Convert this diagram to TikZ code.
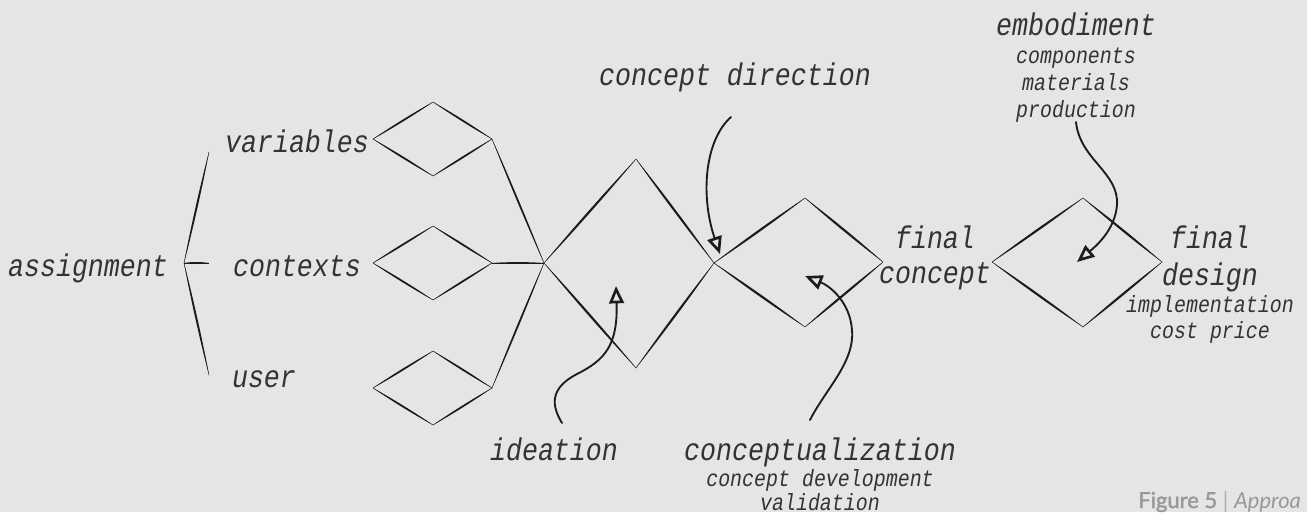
\documentclass[tikz,border=0pt]{standalone}
\usepackage{fontspec}
\usetikzlibrary{calc,arrows.meta}
\newfontfamily\handfont[FakeStretch=0.85]{Liberation Mono}
\newfontfamily\capfont{Lato}
\newfontfamily\capboldfont[FakeBold=2]{Lato}
\definecolor{paper}{HTML}{E5E5E5}
\definecolor{ink}{HTML}{1C1C1C}
\definecolor{txt}{HTML}{333333}
\definecolor{capgray}{HTML}{999999}

% a brush stroke: thin at both ends, swelling in the middle
\newcommand\brushline[3][0.9pt]{%
  \fill[ink] (#2) .. controls ($(#2)!0.3!(#3)!#1!90:(#3)$) and ($(#2)!0.7!(#3)!#1!90:(#3)$) .. (#3)
     .. controls ($(#2)!0.7!(#3)!#1!-90:(#3)$) and ($(#2)!0.3!(#3)!#1!-90:(#3)$) .. cycle;
  \draw[ink, line width=0.3pt] (#2) -- (#3);}

\tikzset{
  lbl/.style={font=\handfont\itshape\fontsize{23.5}{26}\selectfont, text=txt, inner sep=0pt, anchor=base},
  sublbl/.style={lbl, font=\handfont\itshape\fontsize{17.6}{20}\selectfont},
  curl/.style={draw=ink, line width=1.4pt, line cap=round,
    -{Triangle[open, length=13pt, width=11pt, line width=2pt]}},
}

\begin{document}
\begin{tikzpicture}[x=0.75pt, y=-0.75pt]
\fill[paper] (0,0) rectangle (1307,512);
\useasboundingbox (0,0) rectangle (1307,512);
\clip (0,0) rectangle (1307,512);

% ---- brace of the assignment ----
\coordinate (brTop) at (209,152);
\coordinate (brTip) at (184,263);
\coordinate (brBot) at (209,375);
\coordinate (brMid) at (209,263);
\brushline[1.0pt]{brTop}{brTip}
\brushline[1.0pt]{brTip}{brBot}
\brushline[1.0pt]{brTip}{brMid}

% ---- three small diamonds ----
\foreach \n/\y in {a/139, b/263, c/388} {
  \coordinate (s\n L) at (373,\y);
  \coordinate (s\n T) at (433,\y-37);
  \coordinate (s\n R) at (492,\y);
  \coordinate (s\n B) at (433,\y+37);
}
\foreach \n in {a,b,c} {
  \brushline{s\n L}{s\n T}
  \brushline{s\n T}{s\n R}
  \brushline{s\n R}{s\n B}
  \brushline{s\n B}{s\n L}
}

% ---- ideation diamond ----
\coordinate (iL) at (544,263);
\coordinate (iT) at (636,159);
\coordinate (iR) at (714,263);
\coordinate (iB) at (636,368);
\brushline[1.1pt]{iL}{iT}
\brushline[1.1pt]{iT}{iR}
\brushline[1.1pt]{iR}{iB}
\brushline[1.1pt]{iB}{iL}

% converging lines
\brushline{saR}{iL}
\brushline{sbR}{iL}
\brushline{scR}{iL}

% ---- conceptualization diamond ----
\coordinate (kT) at (805,198);
\coordinate (kR) at (883,262);
\coordinate (kB) at (805,327);
\brushline[1.1pt]{iR}{kT}
\brushline[1.1pt]{kT}{kR}
\brushline[1.1pt]{kR}{kB}
\brushline[1.1pt]{kB}{iR}

% ---- embodiment diamond ----
\coordinate (eL) at (992,262);
\coordinate (eT) at (1083,198);
\coordinate (eR) at (1162,262);
\coordinate (eB) at (1083,327);
\brushline[1.1pt]{eL}{eT}
\brushline[1.1pt]{eT}{eR}
\brushline[1.1pt]{eR}{eB}
\brushline[1.1pt]{eB}{eL}

% ---- labels ----
\node[lbl] (assign) at (88,276) {assignment};
\node[lbl] (vars) at (297,152) {variables};
\node[lbl] (ctx) at (297,276) {contexts};
\node[lbl] (usr) at (264,387) {user};

\node[lbl] (cdir) at (735,85) {concept direction};

\node[lbl] (fcA) at (935,248) {final};
\node[lbl] (fcB) at (935,283) {concept};

\node[lbl] (emb) at (1076,35) {embodiment};
\node[sublbl] (embA) at (1076,63) {components};
\node[sublbl] (embB) at (1076,90) {materials};
\node[sublbl] (embC) at (1076,117) {production};

\node[lbl] (fdA) at (1210,248) {final};
\node[lbl] (fdB) at (1210,285) {design};
\node[sublbl] (fdC) at (1210,312) {implementation};
\node[sublbl] (fdD) at (1210,338) {cost price};

\node[lbl] (idea) at (554,460) {ideation};
\node[lbl] (cz) at (820,460) {conceptualization};
\node[sublbl] (czA) at (820,486) {concept development};
\node[sublbl] (czB) at (820,510) {validation};

% ---- hand-drawn arrows ----
\coordinate (dirS) at (731,117);
\coordinate (dirE) at (720,254);
\draw[curl] (dirS) .. controls (705,140) and (700,195) .. (dirE);

\coordinate (ideaS) at (562,423);
\coordinate (ideaM) at (577,374);
\coordinate (ideaE) at (616,286);
\draw[curl] (ideaS) .. controls (551,405) and (550,388) .. (ideaM)
  .. controls (605,360) and (618,345) .. (ideaE);

\coordinate (czS) at (810,420);
\coordinate (czM) at (852,330);
\coordinate (czE) at (805,276);
\draw[curl] (czS) .. controls (825,390) and (855,362) .. (czM)
  .. controls (850,302) and (830,286) .. (czE);

\coordinate (embS) at (1076,122);
\coordinate (embM) at (1117,205);
\coordinate (embE) at (1077,262);
\draw[curl] (embS) .. controls (1080,160) and (1119,172) .. (embM)
  .. controls (1115,230) and (1096,246) .. (embE);

% ---- caption ----
\node[inner sep=0pt, anchor=base west, text=capgray, font=\capfont\fontsize{16.5}{18}\selectfont]
  (cap) at (1138,508) {{\capboldfont Figure 5} {\color{capgray!80}|} \textit{Approa}};
\end{tikzpicture}
\end{document}
